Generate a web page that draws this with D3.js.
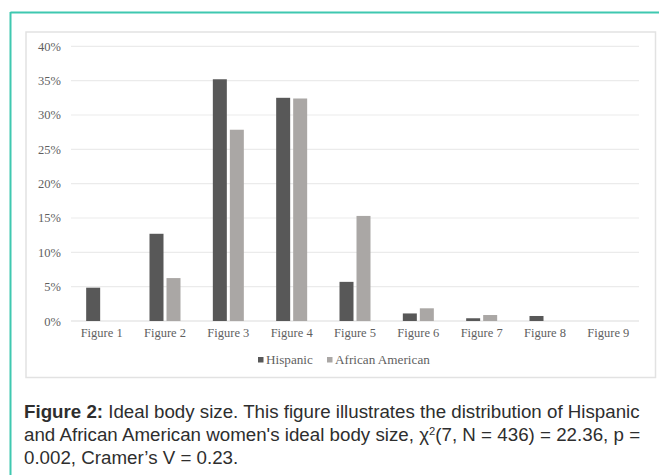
<!DOCTYPE html>
<html>
<head>
<meta charset="utf-8">
<script src="https://cdn.jsdelivr.net/npm/d3@7"></script>
<style>
  html, body { margin: 0; padding: 0; background: #ffffff; }
  svg { display: block; }
</style>
</head>
<body>
<svg id="chart" width="659" height="475"></svg>
<script>
// ---- data ----
const categories = ["Figure 1","Figure 2","Figure 3","Figure 4","Figure 5","Figure 6","Figure 7","Figure 8","Figure 9"];
const seriesNames = ["Hispanic","African American"];
const hispanic = [0.0485, 0.127, 0.352, 0.325, 0.057, 0.011, 0.004, 0.0073, 0];
const africanAmerican = [0, 0.0625, 0.2785, 0.324, 0.153, 0.0185, 0.0087, 0, 0];
const yTicks = [0, 0.05, 0.10, 0.15, 0.20, 0.25, 0.30, 0.35, 0.40];
const seriesColors = ["#585858", "#aaa7a5"];

const svg = d3.select("#chart");
const serif = "'Liberation Serif', 'Times New Roman', serif";
const labelColor = "#5f5f5f";

// outer teal frame (top + left)
svg.append("line").attr("x1", 10.5).attr("x2", 659).attr("y1", 12.5).attr("y2", 12.5)
  .attr("stroke", "#3fc8b0").attr("stroke-width", 2);
svg.append("line").attr("x1", 10.5).attr("x2", 10.5).attr("y1", 12).attr("y2", 475)
  .attr("stroke", "#3fc8b0").attr("stroke-width", 2);

// inner chart box
svg.append("rect").attr("x", 26).attr("y", 32).attr("width", 629.5).attr("height", 345.5)
  .attr("fill", "#ffffff").attr("stroke", "#e2e2e2").attr("stroke-width", 1.5);

// scales
const x = d3.scaleBand().domain(categories).range([70, 640]).padding(0);
const xs = d3.scaleBand().domain(seriesNames)
  .range([x.bandwidth() / 2 - 15.5, x.bandwidth() / 2 + 15.5])
  .paddingInner(3 / 17).paddingOuter(0);
const y = d3.scaleLinear().domain([0, 0.4]).range([321, 46.3]);

// gridlines
svg.append("g").selectAll("line").data(yTicks).join("line")
  .attr("x1", 71).attr("x2", 639)
  .attr("y1", d => y(d)).attr("y2", d => y(d))
  .attr("stroke", d => d === 0 ? "#dcdcdc" : "#ebebeb").attr("stroke-width", 1.2);

// y axis labels
const yAxis = d3.axisLeft(y).tickValues(yTicks).tickFormat(d3.format(".0%")).tickSize(0).tickPadding(0);
const gy = svg.append("g").attr("transform", "translate(61,0)").call(yAxis);
gy.select(".domain").remove();
gy.selectAll("text").attr("font-family", serif).attr("font-size", 12.5).attr("fill", labelColor);

// x axis labels
const xAxis = d3.axisBottom(x).tickSize(0).tickPadding(0);
const gx = svg.append("g").attr("transform", "translate(0,328)").call(xAxis);
gx.select(".domain").remove();
gx.selectAll("text").attr("font-family", serif).attr("font-size", 12.5).attr("fill", labelColor);

// bars
const rows = categories.map((c, i) => ({ cat: c, vals: [hispanic[i], africanAmerican[i]] }));
const groups = svg.append("g").selectAll("g").data(rows).join("g")
  .attr("transform", d => `translate(${x(d.cat)},0)`);
groups.selectAll("rect")
  .data(d => d.vals.map((v, j) => ({ name: seriesNames[j], v, j })).filter(e => e.v > 0))
  .join("rect")
  .attr("x", d => xs(d.name))
  .attr("width", xs.bandwidth())
  .attr("y", d => y(d.v))
  .attr("height", d => y(0) - y(d.v))
  .attr("fill", d => seriesColors[d.j]);

// legend
const legendItems = [
  { name: seriesNames[0], color: seriesColors[0], x: 258 },
  { name: seriesNames[1], color: seriesColors[1], x: 327 }
];
const lg = svg.append("g").selectAll("g").data(legendItems).join("g")
  .attr("transform", d => `translate(${d.x},0)`);
lg.append("rect").attr("x", 0).attr("y", 357).attr("width", 5.5).attr("height", 5.5)
  .attr("fill", d => d.color);
lg.append("text").attr("x", 8).attr("y", 364)
  .attr("font-family", serif).attr("font-size", 13.2).attr("fill", labelColor).text(d => d.name);

// caption: font sized so line 1 fills the text width; line 2 justified; last line natural
const cap = svg.append("g").attr("font-family", "'Liberation Sans', Arial, sans-serif")
  .attr("font-size", 15).attr("fill", "#2e2e2e");
const l1 = cap.append("text").attr("x", 24).attr("y", 418);
l1.append("tspan").attr("font-weight", "bold").text("Figure 2:");
l1.append("tspan").text(" Ideal body size. This figure illustrates the distribution of Hispanic");
const l2 = cap.append("text").attr("x", 24).attr("y", 441);
l2.append("tspan").text("and African American women's ideal body size, χ");
const sup = l2.append("tspan").attr("dy", -6.5).text("2");
l2.append("tspan").attr("dy", 6.5).text("(7, N = 436) = 22.36, p =");
cap.append("text").attr("x", 24).attr("y", 464).text("0.002, Cramer’s V = 0.23.");

const targetWidth = 616;
const len1 = l1.node().getComputedTextLength();
const fs = len1 > 0 ? 15 * targetWidth / len1 : 17;
cap.attr("font-size", fs);
sup.attr("font-size", fs * 0.6);
const len2 = l2.node().getComputedTextLength();
if (len2 > 0 && len2 < targetWidth) {
  l2.attr("word-spacing", (targetWidth - len2) / 12);
} else if (len2 > targetWidth) {
  l2.attr("textLength", targetWidth).attr("lengthAdjust", "spacingAndGlyphs");
}
</script>
</body>
</html>
